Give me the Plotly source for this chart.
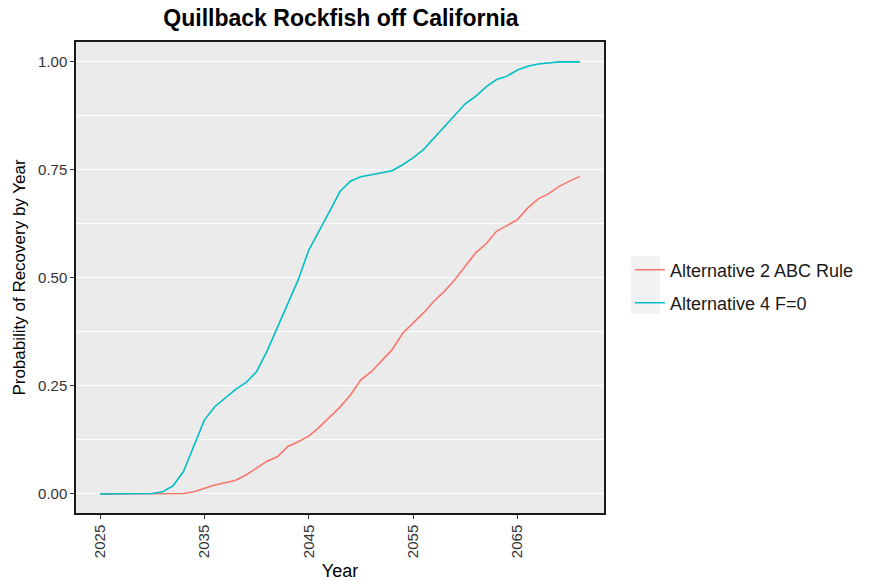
import plotly.graph_objects as go

years = list(range(2025, 2072))

alt2_abc = [0, 0, 0, 0, 0, 0, 0, 0, 0.001, 0.005,
            0.013, 0.021, 0.026, 0.032, 0.044, 0.061, 0.076, 0.086, 0.110, 0.121,
            0.134, 0.154, 0.177, 0.201, 0.229, 0.264, 0.283, 0.308, 0.334, 0.372,
            0.395, 0.419, 0.446, 0.469, 0.496, 0.527, 0.558, 0.579, 0.608, 0.621,
            0.635, 0.662, 0.683, 0.695, 0.712, 0.724, 0.735]

alt4_f0 = [0, 0, 0, 0, 0, 0.001, 0.005, 0.019, 0.052, 0.110,
           0.171, 0.202, 0.222, 0.242, 0.258, 0.283, 0.330, 0.384, 0.438, 0.496,
           0.564, 0.608, 0.654, 0.700, 0.724, 0.734, 0.739, 0.743, 0.748, 0.762,
           0.778, 0.797, 0.824, 0.849, 0.876, 0.903, 0.920, 0.942, 0.959, 0.967,
           0.981, 0.990, 0.995, 0.998, 1.0, 1.0, 1.0]

series_names = ["Alternative 2 ABC Rule", "Alternative 4 F=0"]
series_colors = ["#F8766D", "#00BFC4"]
y_ticks = [0, 0.25, 0.5, 0.75, 1.0]
y_ticklabels = ["0.00", "0.25", "0.50", "0.75", "1.00"]
x_ticks = [2025, 2035, 2045, 2055, 2065]

W, H = 871, 581
L, R, T, B = 76, 265, 42, 68
pw = W - L - R
ph = H - T - B

def px_x(p):
    return (p - L) / pw

def px_y(p):
    return (H - B - p) / ph

legend_ids = ["legend", "legend2"]
legend_centers = [270, 303]

fig = go.Figure()
for name, vals, col, lid in zip(series_names, [alt2_abc, alt4_f0], series_colors, legend_ids):
    fig.add_trace(go.Scatter(x=years, y=vals, mode="lines", name=name,
                             line=dict(color=col, width=1.6), legend=lid))

fig.add_shape(type="rect", xref="paper", yref="paper",
              x0=px_x(633), x1=px_x(662), y0=px_y(314), y1=px_y(256),
              fillcolor="#F2F2F2", line=dict(width=0), layer="below")

leg_common = dict(x=px_x(632), xanchor="left", yanchor="middle",
                  bgcolor="rgba(0,0,0,0)", font=dict(size=18, color="#1a1a1a"),
                  itemwidth=30)

fig.update_layout(
    width=W, height=H,
    margin=dict(l=L, r=R, t=T, b=B),
    paper_bgcolor="white",
    plot_bgcolor="#EBEBEB",
    font=dict(family="Liberation Sans, Arial, sans-serif", color="#1a1a1a"),
    title=dict(text="<b>Quillback Rockfish off California</b>",
               x=(L + pw / 2) / W, xanchor="center", y=1 - 18 / H, yanchor="middle",
               font=dict(size=23, color="black")),
    showlegend=True,
    legend=dict(y=px_y(legend_centers[0]), **leg_common),
    legend2=dict(y=px_y(legend_centers[1]), **leg_common),
    xaxis=dict(range=[2022.7, 2073.3], tickvals=x_ticks, tickangle=-90,
               showgrid=False, zeroline=False, automargin=False,
               showline=True, mirror=True, linecolor="#1a1a1a", linewidth=1.5,
               ticks="outside", ticklen=4, tickcolor="#333333",
               tickfont=dict(size=15, color="#333333"),
               title=dict(text="Year", font=dict(size=18, color="black"), standoff=9)),
    yaxis=dict(range=[-0.044, 1.046], tickvals=y_ticks, ticktext=y_ticklabels,
               showgrid=True, gridcolor="white", gridwidth=1.2, zeroline=False,
               automargin=False,
               showline=True, mirror=True, linecolor="#1a1a1a", linewidth=1.5,
               ticks="outside", ticklen=4, tickcolor="#333333",
               tickfont=dict(size=15, color="#333333"),
               minor=dict(tick0=0.125, dtick=0.25, showgrid=True,
                          gridcolor="white", gridwidth=0.6, ticks=""),
               title=dict(text="Probability of Recovery by Year",
                          font=dict(size=17, color="black"), standoff=8)),
)

fig.write_html("out.html", config={"displayModeBar": False},
               post_script="document.body.style.margin='0';")
